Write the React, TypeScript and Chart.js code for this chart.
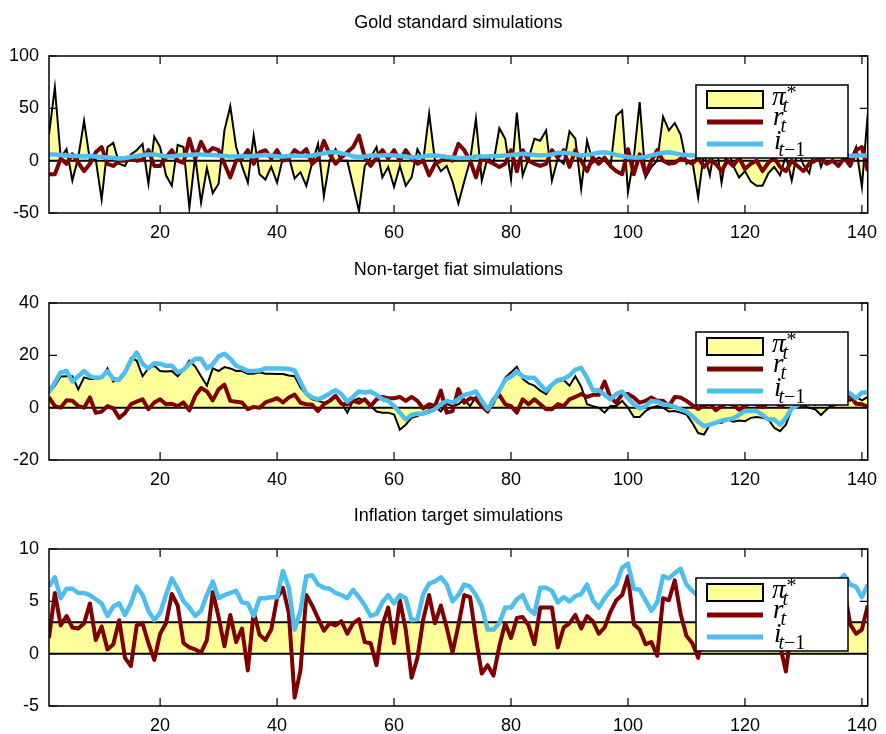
import React, { useEffect, useRef } from "react";
import { Chart, registerables } from "chart.js";

Chart.register(...registerables);

// ---------- data ----------
const periodCount = 141;
const xTickValues = [20, 40, 60, 80, 100, 120, 140];

const goldTitle = "Gold standard simulations";
const fiatTitle = "Non-target fiat simulations";
const targetTitle = "Inflation target simulations";

const goldYTicks = [-50, 0, 50, 100];
const fiatYTicks = [-20, 0, 20, 40];
const targetYTicks = [-5, 0, 5, 10];

// Gold standard: pi*_t, r_t, i_{t-1}
const goldPi = [
  25, 70, 3, 11, -19, 3, 38, 0, 1, -37,
  13, 17, -3, -5, 6, 10, 16, -22, 23, 13,
  -14, -24, 15, 13, -45, 4, -40, -7, -31, -22,
  29, 52, 13, -5, -21, 24, -13, -18, -6, -21,
  3, 4, -17, -11, -24, -2, 16, -34, 0, 11,
  0, 0, -24, -48, -5, 3, 13, -16, -6, -25,
  -5, -24, -16, 11, 0, 45, 0, -10, -5, -20,
  -41, -20, 0, 40, -19, 3, -2, 31, 21, -18,
  46, -14, 2, 21, 19, 29, -19, 2, -3, 28,
  21, -27, 19, -2, 3, 0, -6, 43, 48, -30,
  3, 56, -16, -6, 0, 42, 29, 36, 25, -3,
  0, -35, 8, -14, 20, -21, 12, -5, -16, -10,
  -20, -24, -24, -12, -6, -14, 5, -19, 10, -4,
  -12, 15, -6, 8, 3, 16, 10, 0, 13, -25, 45,
];
const goldR = [
  -13, -13, 2, -3, 6, -2, -10, -3, 8, 13,
  -3, -5, 0, 0, 3, 0, 1, 10, -5, -5,
  3, 10, 0, -2, 21, 2, 18, 7, 12, 10,
  -3, -16, 0, 2, 10, -3, 8, 10, 2, 10,
  0, 2, 10, 6, 11, -3, 2, 19, 6, -3,
  3, 8, 13, 24, 3, -5, 3, 10, 2, 10,
  0, 10, 2, -3, 0, -14, -3, 0, 3, 0,
  16, 10, 0, -16, 3, 0, -3, -6, -3, 10,
  -10, 10, 0, -3, -5, -3, 10, 3, 10, -6,
  10, 0, -10, 3, -3, 3, -5, -10, -13, 11,
  -13, 6, -13, 0, 10, 0, -3, -2, 2, 0,
  -3, 3, -6, 0, -3, -10, 0, -5, 3, -8,
  -3, 0, -10, -2, 3, -6, -10, 0, -5, -10,
  -3, 0, 3, -3, 0, -5, 3, -5, 10, 13, -10,
];
const goldI = [
  6, 6, 5.5, 5, 4.5, 4.5, 4, 4.5, 4, 3.5,
  3, 2.5, 2, 2.5, 3.5, 4.5, 5.5, 6, 6, 5,
  4, 4, 5, 5.5, 5.5, 6, 6, 5.5, 5.5, 5,
  4.5, 4, 4, 4.5, 4, 4.5, 5, 5.5, 5, 4,
  4, 4.5, 5, 4.5, 4.5, 5, 6, 7, 8, 8,
  7, 6, 4, 3.5, 4, 5, 5, 5, 5.5, 5,
  4.5, 4, 3, 3.5, 4, 5, 5, 4.5, 3.5, 3,
  2.5, 2.5, 3, 4, 4, 4, 4.5, 4.5, 5, 5.5,
  6, 6.5, 6, 5.5, 5, 5.5, 6, 7.5, 7.5, 7,
  6, 5, 5.5, 6.5, 7.5, 8, 7, 5.5, 4.5, 3.5,
  3, 3, 3.5, 5, 6.5, 7.5, 8, 7, 6, 5.5,
  5, 5, 4.5, 4, 4.5, 5, 5.5, 6, 6, 5.5,
  5, 4.5, 4, 4.5, 5, 5.5, 6, 6.5, 6, 5.5,
  5, 4.5, 4.5, 5, 5, 5, 5, 4.5, 5, 5, 5,
];

// Non-target fiat
const fiatPi = [
  5.8, 8.4, 11.9, 12, 12, 7, 11.6, 11, 11, 11.4,
  15, 10, 11.4, 14, 19, 18, 12, 15, 16, 14,
  13.8, 14, 12, 14.5, 18, 15.7, 12, 8.4, 15, 14,
  15.5, 15, 14, 14, 13, 13, 13.5, 13, 13, 12.9,
  12.9, 12.3, 12, 7.7, 4.9, 3.2, 2.6, 1.9, 2.6, 4.5,
  1.9, -1.9, 2.6, 3.6, 2.6, 0.6, -1.5, -1.9, -1.9, -2.6,
  -8.4, -6.5, -3.9, -3.2, -1.9, -1, 0.6, -1.5, 1.5, 0.6,
  1.3, 3.2, 0.6, 4.1, 2.6, -0.6, 1.3, 6.5, 11.4, 13.5,
  15.7, 11, 9.3, 8.4, 6.5, 5.2, 8.4, 10, 10.6, 8.4,
  12, 8, 1.3, 0.6, 0, -1.9, 0.6, 0.6, 2.6, 0,
  -3.6, -3.6, -1.3, 0, 0.6, 0, -1.5, -1.3, -1.9, -2.6,
  -5.8, -9.7, -10.3, -6.5, -5.8, -5.8, -4.5, -5.4, -4.9, -5.2,
  -3.9, -3.6, -3.9, -4.5, -7.7, -9, -6.5, -0.6, 0.6, 0.6,
  0, -0.6, -2.8, -0.6, 1.3, 3.2, 4.5, 2.6, 4.1, 2.8, 4.1,
];
const fiatR = [
  3.9, 0.6, 0, 2.8, 2.6, 0.6, 0, 3.9, -2, -1.5,
  0.6, -0.3, -3.9, -2, 1.3, 2.3, 3.2, -0.6, 2, 3.2,
  1.3, 1.5, 0.6, 2, -1, 4.5, 7.5, 6.2, 2.8, 7,
  8.8, 2.6, 2.3, 2, -0.6, 0.3, 0, 2, 2.8, 3.6,
  2, 3.9, 5, 1.9, 1.3, 1.1, -1.3, 1.3, 2.6, 4.5,
  1.5, 1.3, 2.6, 1.9, 3.2, 0.6, 3.2, 4.1, 3.6, 3.6,
  4.1, 2.6, 4.1, 2.6, -0.3, 1.3, 0.6, 6.5, -1.9, -1.3,
  7.1, 1.9, 3.6, 3.2, 0.6, -1.5, 3.2, 4.9, 1.3, 0.6,
  -1.9, 3.2, 1.3, 3.2, 1.3, -0.6, -0.6, 1.3, 0.6, 3.2,
  4.1, 5.2, 4.1, 4.9, 4.9, 10, 3.9, 1.9, 5.2, 5.2,
  3.9, 1.9, 2.6, 3.9, 2.6, 2.6, 0.6, 4.1, 3.9, 2.6,
  1, -0.5, 0.8, 1.5, -1, 0.5, 2, 1, -0.8, 0.6,
  2.2, 1.2, 0.2, 1.8, 2.5, 0.5, 1.5, 3, 2, 1,
  2.5, 1.5, 3, 2, 1, 2, 3.2, 4.5, 1.5, 1.3, 0.3,
];
const fiatI = [
  5.8, 9.7, 13.5, 14, 10, 12, 14, 12, 11.4, 11.6,
  14, 11, 10.6, 13.5, 18, 21, 16.8, 15, 17, 16.8,
  16, 16, 13.5, 14.5, 16.8, 18.7, 18.7, 15, 16.5, 19.6,
  20.6, 18.7, 16, 15, 14, 14, 14.2, 15, 15, 15,
  15, 14.8, 14.2, 9.7, 5.4, 3.9, 3.2, 4.1, 5.4, 6.7,
  5.2, 2.3, 4.1, 6.2, 5.8, 6.2, 4.9, 3.2, 2.6, 0.6,
  -1.9, -4.5, -2.8, -2.3, -2.3, -1.5, -0.6, 1.3, 2.6, 1.9,
  3.2, 4.9, 5.4, 6.2, 2.6, -0.6, 2.6, 6.5, 10.6, 11.9,
  13.9, 11.9, 11.4, 11.4, 8.8, 6.5, 8.8, 10.6, 11, 12.3,
  14.5, 15.2, 11.4, 6.7, 6.7, 4.9, 3.2, 5.2, 6.2, 3.6,
  1.3, -0.3, 0.6, 2.6, 2.3, 1.3, 1, 0.3, -0.6, -1.5,
  -3.2, -5.4, -7.1, -6.5, -5.8, -4.9, -4.5, -4.1, -2.8, -1.3,
  -1.3, -1.3, -2.8, -4.5, -4.5, -6.5, -3.9, -0.3, 1, 2,
  2.5, 3, 2, 3, 4.5, 5.5, 6.5, 5.4, 3.6, 5.8, 5.8,
];

// Inflation target
const targetPiX = [1, 141];
const targetPiY = [3, 3];
const targetR = [
  1.5, 5.8, 2.7, 3.6, 2.5, 2.4, 2.9, 4.8, 1.3, 2.6,
  0.4, 0.9, 3.2, -0.4, -1.2, 2.7, 2.9, 1, -0.6, 1.9,
  2.9, 5.7, 4.6, 1, 0.6, 0.4, 0.1, 1.3, 5.9, 3.5,
  0.7, 3.7, 1.1, 2.4, -1.6, 4, 1.8, 1.3, 2.3, 5.3,
  6.3, 3.9, -4.2, -1.6, 5.6, 4.6, 3.4, 2.2, 2.9, 2.7,
  3.1, 1.9, 2.9, 3.3, 1.1, 1, -1.1, 2.7, 4.4, 1,
  5.1, 2.3, -2.3, -0.4, 3.3, 5.6, 2.9, 4.6, 2.5, 0.1,
  2.7, 5.6, 5.4, 1.5, -1.9, -1.1, -2.1, 0.7, 2.9, 1.5,
  3.4, 3.5, 2.7, 0.9, 4.4, 4.4, 4.4, 0.6, 2.5, 2.9,
  3.7, 2.4, 3.6, 3.1, 1.9, 2.5, 4, 5.1, 5.6, 7.4,
  2.8, 2.3, 0.9, 1.1, -0.2, 5.3, 5.1, 7, 3.8, 1.7,
  1.0, -0.4, 2.5, 4.0, 3.0, 1.5, 4.5, 2.2, 3.6, 1.8,
  5.0, 3.2, 2.0, 4.2, 1.2, 0.8, -1.7, 2.6, 4.8, 3.0,
  5.4, 2.2, 3.8, 6.0, 4.5, 6.2, 6.1, 2.8, 1.9, 2.3, 4.6,
];
const targetI = [
  6.4, 7.3, 5.3, 6.2, 6.2, 5.8, 5.8, 5.6, 5.2, 4.8,
  3.6, 4.5, 4.8, 3.7, 4.8, 6.4, 5.6, 4.1, 3.2, 3.9,
  5.6, 7.2, 6.2, 5, 4.4, 3.6, 4.1, 5.6, 6.9, 5.3,
  5.6, 5.8, 6, 4.9, 4.8, 3.6, 5.3, 5.3, 5.4, 5.4,
  7.9, 6.3, 2.3, 4.1, 7.4, 7.5, 6.6, 6.3, 6.2, 5.8,
  5.6, 5.3, 6.1, 5.4, 4.6, 3.6, 3.8, 4.9, 5.6, 4.8,
  5.6, 5.3, 3.2, 3.3, 5.7, 6.7, 6.9, 7.3, 6.6, 5,
  5.6, 6.6, 6.4, 5.6, 4.5, 2.3, 2.3, 2.9, 4.4, 4.4,
  5.2, 5.6, 4.3, 3.8, 6.3, 6.3, 6, 4.9, 5.4, 5,
  5.5, 5.7, 6.6, 5.1, 4.4, 5.3, 6, 6.6, 8.2, 8.6,
  6.2, 6.1, 5.1, 4.1, 4.9, 7.4, 7.2, 7.7, 8.1, 6.6,
  6.0, 5.5, 6.3, 6.8, 6.4, 5.8, 5.2, 5.9, 6.6, 6.9,
  6.5, 5.7, 5.0, 5.6, 6.2, 6.8, 6.1, 5.4, 5.9, 6.7,
  6.9, 6.6, 6.0, 6.5, 6.9, 7.0, 7.5, 6.6, 6.4, 5.4, 6.6,
];

// ---------- styling ----------
const SANS = '"Liberation Sans", Arial, Helvetica, sans-serif';
const SERIF = '"Liberation Serif", "Times New Roman", serif';
const YELLOW = "rgb(255,255,153)";
const RED = "#800000";
const BLUE = "#4DBEEE";
const W = 886;

type Pt = { x: number; y: number };
const seq = (ys: number[]): Pt[] => ys.map((y, i) => ({ x: i + 1, y }));
const pairs = (xs: number[], ys: number[]): Pt[] => xs.map((x, i) => ({ x, y: ys[i] }));

type PanelSpec = {
  title: string;
  pi: Pt[];
  r: Pt[];
  i: Pt[];
  yTicks: number[];
  height: number;
  padTop: number;
  xAxisH: number;
};

function drawMath(ctx: CanvasRenderingContext2D, x: number, y: number, base: string, sub: string[], sup?: string) {
  ctx.font = `italic 27px ${SERIF}`;
  ctx.textAlign = "left";
  ctx.textBaseline = "alphabetic";
  ctx.fillText(base, x, y);
  const bw = ctx.measureText(base).width;
  let sx = x + bw - 3;
  sub.forEach((s, k) => {
    ctx.font = k === 0 ? `italic 20px ${SERIF}` : `20px ${SERIF}`;
    ctx.fillText(s, sx, y + 7);
    sx += ctx.measureText(s).width;
  });
  if (sup) {
    ctx.font = `20px ${SERIF}`;
    ctx.fillText(sup, x + bw + 1, y - 6);
  }
}

function makeDecor(spec: PanelSpec) {
  return {
    id: "decor",
    afterDatasetDraw(chart: any, args: any) {
      if (args.index !== 0) return;
      const { ctx, chartArea } = chart;
      const y0 = chart.scales.y.getPixelForValue(0);
      ctx.save();
      ctx.strokeStyle = "#000";
      ctx.lineWidth = 2;
      ctx.beginPath();
      ctx.moveTo(chartArea.left, y0);
      ctx.lineTo(chartArea.right, y0);
      ctx.stroke();
      ctx.restore();
    },
    afterDraw(chart: any) {
      const { ctx, chartArea: a } = chart;
      const xs = chart.scales.x;
      const ys = chart.scales.y;
      ctx.save();
      // axes box
      ctx.strokeStyle = "#000";
      ctx.lineWidth = 1.5;
      ctx.strokeRect(a.left, a.top, a.right - a.left, a.bottom - a.top);
      // inward ticks on all four sides
      const tl = 8;
      ctx.lineWidth = 1.2;
      ctx.beginPath();
      xTickValues.forEach((v) => {
        const px = xs.getPixelForValue(v);
        ctx.moveTo(px, a.bottom);
        ctx.lineTo(px, a.bottom - tl);
        ctx.moveTo(px, a.top);
        ctx.lineTo(px, a.top + tl);
      });
      spec.yTicks.forEach((v) => {
        const py = ys.getPixelForValue(v);
        ctx.moveTo(a.left, py);
        ctx.lineTo(a.left + tl, py);
        ctx.moveTo(a.right, py);
        ctx.lineTo(a.right - tl, py);
      });
      ctx.stroke();
      // title
      ctx.fillStyle = "#000";
      ctx.font = `18px ${SANS}`;
      ctx.textAlign = "center";
      ctx.textBaseline = "alphabetic";
      ctx.fillText(spec.title, (a.left + a.right) / 2, a.top - 28);
      // legend
      const bx = a.left + 647;
      const by = a.top + 29;
      const bw = 152;
      const bh = 73;
      ctx.fillStyle = "#fff";
      ctx.fillRect(bx, by, bw, bh);
      ctx.strokeStyle = "#000";
      ctx.lineWidth = 1.5;
      ctx.strokeRect(bx, by, bw, bh);
      ctx.fillStyle = YELLOW;
      ctx.fillRect(bx + 11, by + 6, 56, 17);
      ctx.lineWidth = 2;
      ctx.strokeRect(bx + 11, by + 6, 56, 17);
      ctx.lineWidth = 5;
      ctx.strokeStyle = RED;
      ctx.beginPath();
      ctx.moveTo(bx + 11, by + 37);
      ctx.lineTo(bx + 67, by + 37);
      ctx.stroke();
      ctx.strokeStyle = BLUE;
      ctx.beginPath();
      ctx.moveTo(bx + 11, by + 59);
      ctx.lineTo(bx + 67, by + 59);
      ctx.stroke();
      ctx.fillStyle = "#000";
      drawMath(ctx, bx + 76, by + 20, "π", ["t"], "*");
      drawMath(ctx, bx + 77, by + 40, "r", ["t"]);
      drawMath(ctx, bx + 78, by + 64, "i", ["t", "−1"]);
      ctx.restore();
    },
  };
}

function buildConfig(spec: PanelSpec): any {
  const yMin = spec.yTicks[0];
  const yMax = spec.yTicks[spec.yTicks.length - 1];
  return {
    type: "line",
    data: {
      datasets: [
        {
          label: "pi",
          data: spec.pi,
          borderColor: "#000",
          borderWidth: 2,
          backgroundColor: YELLOW,
          fill: "origin",
          pointRadius: 0,
          tension: 0,
          order: 3,
          borderJoinStyle: "miter",
        },
        {
          label: "r",
          data: spec.r,
          borderColor: RED,
          borderWidth: 4,
          fill: false,
          pointRadius: 0,
          tension: 0,
          order: 2,
          borderJoinStyle: "round",
        },
        {
          label: "i",
          data: spec.i,
          borderColor: BLUE,
          borderWidth: 4.5,
          fill: false,
          pointRadius: 0,
          tension: 0,
          order: 1,
          borderJoinStyle: "round",
        },
      ],
    },
    options: {
      animation: false,
      responsive: false,
      maintainAspectRatio: false,
      events: [],
      layout: { padding: { top: spec.padTop, left: 0, right: 10.5, bottom: 0 } },
      plugins: {
        legend: { display: false },
        tooltip: { enabled: false },
        title: { display: false },
      },
      scales: {
        x: {
          type: "linear",
          min: 1,
          max: periodCount,
          grid: { display: false, drawTicks: false },
          border: { display: false },
          afterBuildTicks: (s: any) => {
            s.ticks = xTickValues.map((v) => ({ value: v }));
          },
          afterFit: (s: any) => {
            s.height = spec.xAxisH;
          },
          ticks: {
            font: { family: SANS, size: 18 },
            color: "#000",
            padding: 9,
            maxRotation: 0,
            autoSkip: false,
          },
        },
        y: {
          type: "linear",
          min: yMin,
          max: yMax,
          grid: { display: false, drawTicks: false },
          border: { display: false },
          afterBuildTicks: (s: any) => {
            s.ticks = spec.yTicks.map((v) => ({ value: v }));
          },
          afterFit: (s: any) => {
            s.width = 49;
          },
          ticks: {
            font: { family: SANS, size: 18 },
            color: "#000",
            padding: 10,
          },
        },
      },
    },
    plugins: [makeDecor(spec)],
  };
}

const panels: PanelSpec[] = [
  { title: goldTitle, pi: seq(goldPi), r: seq(goldR), i: seq(goldI), yTicks: goldYTicks, height: 245, padTop: 56, xAxisH: 32 },
  { title: fiatTitle, pi: seq(fiatPi), r: seq(fiatR), i: seq(fiatI), yTicks: fiatYTicks, height: 245, padTop: 58, xAxisH: 30 },
  { title: targetTitle, pi: pairs(targetPiX, targetPiY), r: seq(targetR), i: seq(targetI), yTicks: targetYTicks, height: 244, padTop: 59, xAxisH: 28 },
];

function Panel({ spec, top }: { spec: PanelSpec; top: number }) {
  const ref = useRef<HTMLCanvasElement | null>(null);
  useEffect(() => {
    if (!ref.current) return;
    const chart = new Chart(ref.current, buildConfig(spec));
    return () => chart.destroy();
  }, [spec]);
  return (
    <canvas
      ref={ref}
      width={W}
      height={spec.height}
      style={{ position: "absolute", left: 0, top, width: W, height: spec.height, display: "block" }}
    />
  );
}

export default function App() {
  let top = 0;
  const tops = panels.map((p) => {
    const t = top;
    top += p.height;
    return t;
  });
  return (
    <div style={{ position: "absolute", left: 0, top: 0, width: W, height: 734, background: "#fff" }}>
      {panels.map((p, k) => (
        <Panel key={k} spec={p} top={tops[k]} />
      ))}
    </div>
  );
}
